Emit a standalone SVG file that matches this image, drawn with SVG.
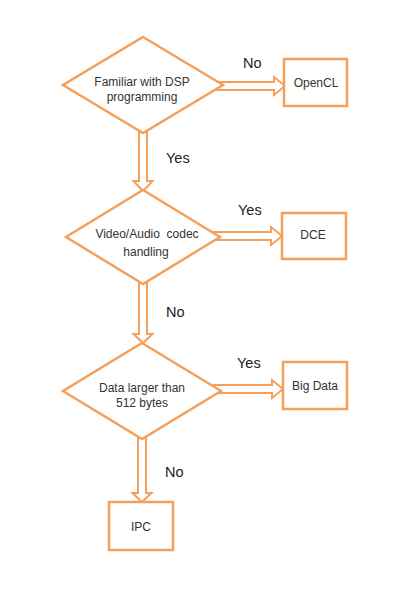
<svg xmlns="http://www.w3.org/2000/svg" width="401" height="599" viewBox="0 0 401 599">
<style>
.shape{fill:#fff;stroke:#F4A05A;stroke-width:2.5;stroke-linejoin:miter}
.arr{fill:#fff;stroke:#F4A05A;stroke-width:2;stroke-linejoin:miter}
.t{font-family:"Liberation Sans",Arial,sans-serif;font-size:12px;fill:#333;text-anchor:middle}
.lbl{font-family:"Liberation Sans",Arial,sans-serif;font-size:14.5px;fill:#222}
</style>
<rect width="401" height="599" fill="#fff"/>
<g id="connectors">
<polygon class="arr" points="214,82 274,82 274,77 285,86 274,95 274,90 214,90"/>
<polygon class="arr" points="139,125 147,125 147,181 152.5,181 143,191 133.5,181 139,181"/>
<polygon class="arr" points="212,232 271,232 271,227 282,236 271,245 271,240 212,240"/>
<polygon class="arr" points="139,277 147,277 147,334 152.5,334 143,343 133.5,334 139,334"/>
<polygon class="arr" points="214,385 272,385 272,380 283,389 272,398 272,393 214,393"/>
<polygon class="arr" points="138,432 146,432 146,493 151.5,493 142,502 132.5,493 138,493"/>
<text class="lbl" x="243" y="68">No</text>
<text class="lbl" x="166" y="163">Yes</text>
<text class="lbl" x="238" y="215">Yes</text>
<text class="lbl" x="166" y="317">No</text>
<text class="lbl" x="237" y="368">Yes</text>
<text class="lbl" x="165" y="477">No</text>
</g>
<g id="n1">
<polygon class="shape" points="143,37 223,85 143,133 63,85"/>
<text class="t" x="142" y="86">Familiar with DSP</text>
<text class="t" x="142" y="101">programming</text>
</g>
<g id="n2">
<rect class="shape" x="284" y="59" width="63" height="47"/>
<text class="t" x="316" y="87">OpenCL</text>
</g>
<g id="n3">
<polygon class="shape" points="143,190 220,237 143,284 66,237"/>
<text class="t" x="147" y="238" xml:space="preserve">Video/Audio  codec</text>
<text class="t" x="146" y="256">handling</text>
</g>
<g id="n4">
<rect class="shape" x="282" y="213" width="64" height="46"/>
<text class="t" x="313" y="239">DCE</text>
</g>
<g id="n5">
<polygon class="shape" points="142,343 221,391 142,439 63,391"/>
<text class="t" x="142" y="392">Data larger than</text>
<text class="t" x="142" y="407">512 bytes</text>
</g>
<g id="n6">
<rect class="shape" x="283" y="362" width="64" height="47"/>
<text class="t" x="315" y="390">Big Data</text>
</g>
<g id="n7">
<rect class="shape" x="109" y="502" width="64" height="48"/>
<text class="t" x="141" y="531">IPC</text>
</g>
</svg>
